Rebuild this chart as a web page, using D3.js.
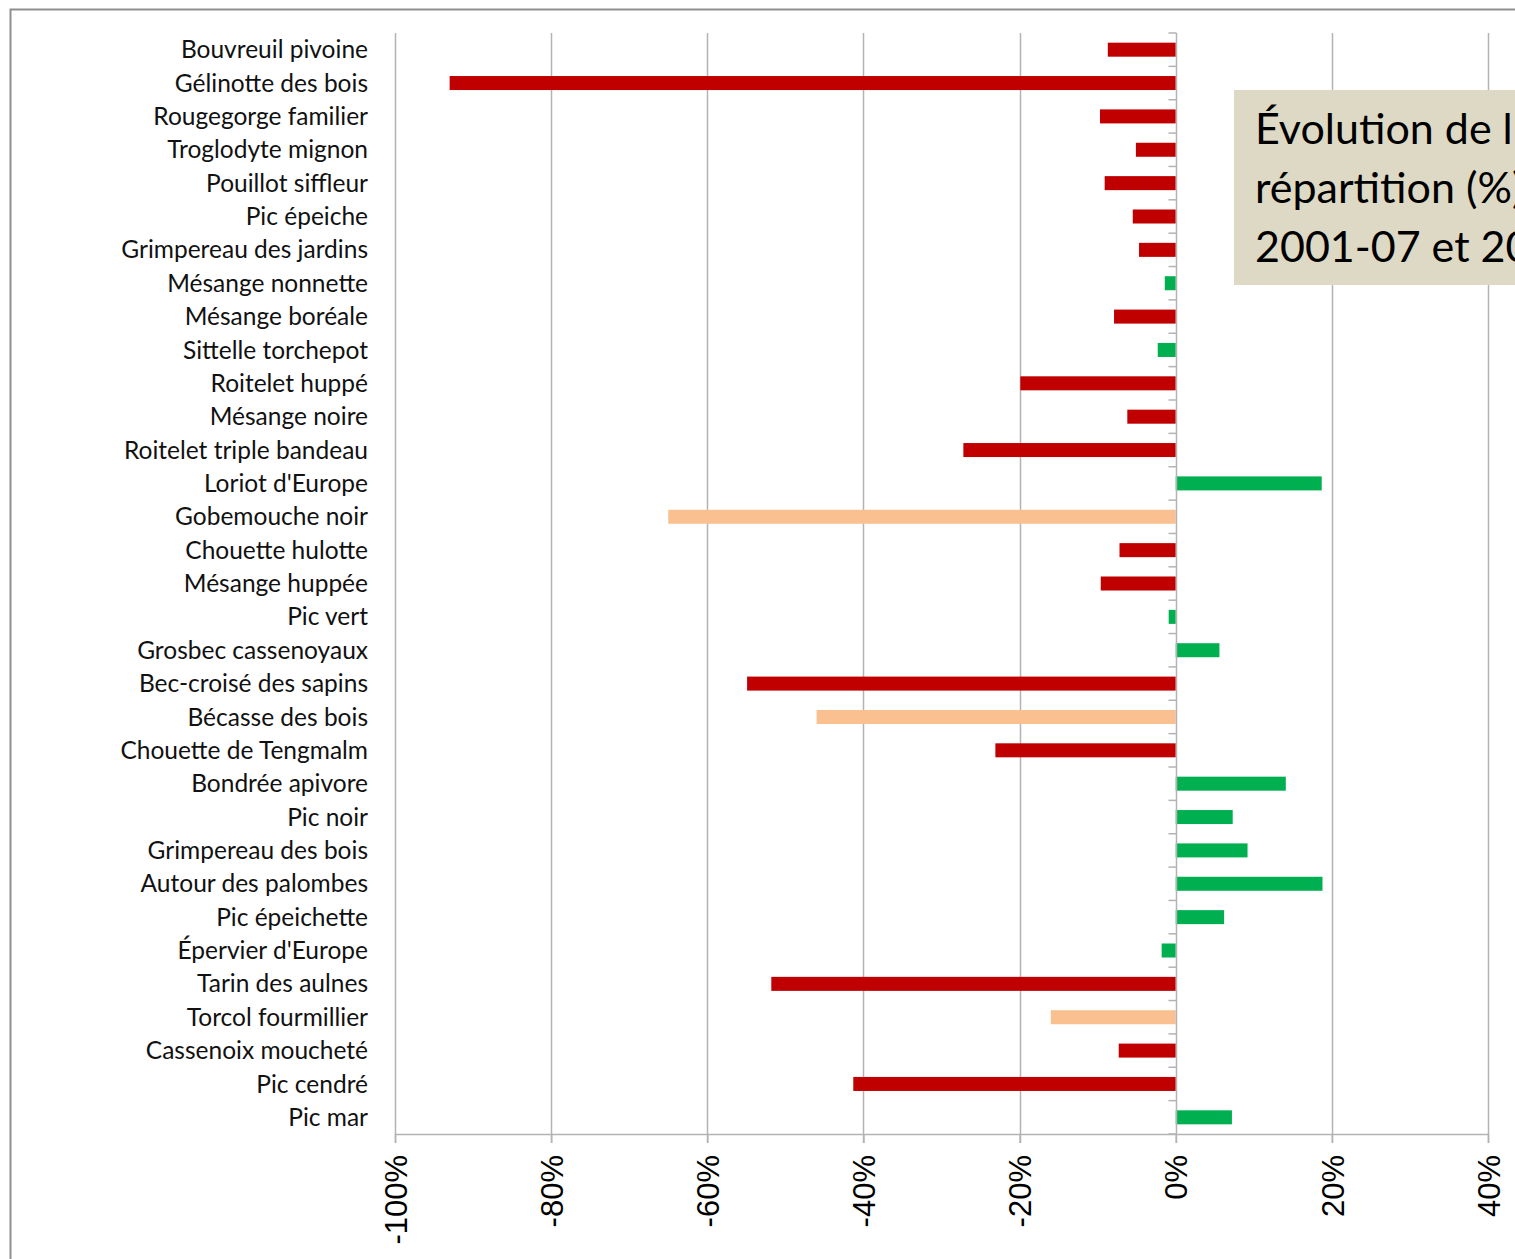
<!DOCTYPE html>
<html>
<head>
<meta charset="utf-8">
<script src="https://cdn.jsdelivr.net/npm/d3@7"></script>
<style>
  html, body { margin: 0; padding: 0; background: #fff; overflow: hidden; }
  svg { display: block; }
</style>
</head>
<body>
<svg id="chart" width="1515" height="1259"></svg>
<script>
// ---- Data ----
const species = [
  "Bouvreuil pivoine", "Gélinotte des bois", "Rougegorge familier", "Troglodyte mignon",
  "Pouillot siffleur", "Pic épeiche", "Grimpereau des jardins", "Mésange nonnette",
  "Mésange boréale", "Sittelle torchepot", "Roitelet huppé", "Mésange noire",
  "Roitelet triple bandeau", "Loriot d'Europe", "Gobemouche noir", "Chouette hulotte",
  "Mésange huppée", "Pic vert", "Grosbec cassenoyaux", "Bec-croisé des sapins",
  "Bécasse des bois", "Chouette de Tengmalm", "Bondrée apivore", "Pic noir",
  "Grimpereau des bois", "Autour des palombes", "Pic épeichette", "Épervier d'Europe",
  "Tarin des aulnes", "Torcol fourmillier", "Cassenoix moucheté", "Pic cendré", "Pic mar"
];
const change = [
  -0.087, -0.93, -0.097, -0.051,
  -0.091, -0.055, -0.047, -0.014,
  -0.079, -0.023, -0.199, -0.062,
  -0.272, 0.187, -0.65, -0.072,
  -0.096, -0.009, 0.056, -0.549,
  -0.46, -0.231, 0.141, 0.073,
  0.092, 0.188, 0.062, -0.018,
  -0.518, -0.16, -0.073, -0.413, 0.072
];
const status = [
  "declin", "declin", "declin", "declin",
  "declin", "declin", "declin", "hausse",
  "declin", "hausse", "declin", "declin",
  "declin", "hausse", "incertain", "declin",
  "declin", "hausse", "hausse", "declin",
  "incertain", "declin", "hausse", "hausse",
  "hausse", "hausse", "hausse", "hausse",
  "declin", "incertain", "declin", "declin", "hausse"
];
const tickValues = [-1, -0.8, -0.6, -0.4, -0.2, 0, 0.2, 0.4];
const titleLines = ["Évolution de l'aire de", "répartition (%) entre", "2001-07 et 2013-19"];
const statusColors = { declin: "#C00000", hausse: "#00B050", incertain: "#FAC090" };

// ---- Layout ----
const svg = d3.select("#chart");
const plotTop = 33, plotBottom = 1134;
const x = d3.scaleLinear().domain([-1, 0.4]).range([395, 1488]);
const y = d3.scaleBand().domain(species).range([plotTop, plotBottom]).paddingInner(0.58).paddingOuter(0.29);
const gridColor = "#b3b3b3";

// outer frame
svg.append("rect").attr("x", 10.5).attr("y", 9.5).attr("width", 1600).attr("height", 1400)
  .attr("fill", "none").attr("stroke", "#8f8f8f").attr("stroke-width", 2);

// gridlines (extend below axis as ticks)
svg.append("g").selectAll("line").data(tickValues.filter(d => d !== 0)).join("line")
  .attr("x1", d => Math.round(x(d)) + 0.5).attr("x2", d => Math.round(x(d)) + 0.5)
  .attr("y1", plotTop).attr("y2", plotBottom + 9)
  .attr("stroke", gridColor).attr("stroke-width", 1.5);

// bottom axis
const xAxis = d3.axisBottom(x).tickValues(tickValues)
  .tickFormat(d => Math.round(d * 100) + "%").tickSize(9).tickSizeOuter(0);
const gx = svg.append("g").attr("transform", `translate(0,${plotBottom})`).call(xAxis);
gx.select(".domain").attr("stroke", gridColor).attr("stroke-width", 1.5);
gx.selectAll(".tick line").attr("stroke", gridColor).attr("stroke-width", 1.5);
gx.selectAll(".tick text")
  .attr("font-family", "'Liberation Sans', Arial, sans-serif")
  .attr("font-size", 31).attr("fill", "#000")
  .attr("transform", "rotate(-90)")
  .attr("text-anchor", "end")
  .attr("x", -21).attr("y", 0).attr("dy", "0.36em");

// bars
svg.append("g").selectAll("rect").data(species).join("rect")
  .attr("x", (d, i) => x(Math.min(0, change[i])))
  .attr("width", (d, i) => Math.abs(x(change[i]) - x(0)))
  .attr("y", d => y(d))
  .attr("height", y.bandwidth())
  .attr("fill", (d, i) => statusColors[status[i]]);

// zero (category) axis with ticks to the left
const x0 = Math.round(x(0)) + 0.5;
svg.append("line").attr("x1", x0).attr("x2", x0).attr("y1", plotTop).attr("y2", plotBottom + 9)
  .attr("stroke", gridColor).attr("stroke-width", 1.5);
const step = y.step();
const bounds = d3.range(species.length + 1).map(i => plotTop + i * step);
svg.append("g").selectAll("line").data(bounds).join("line")
  .attr("x1", x0 - 8).attr("x2", x0).attr("y1", d => d).attr("y2", d => d)
  .attr("stroke", gridColor).attr("stroke-width", 1.5);

// category labels
svg.append("g").selectAll("text").data(species).join("text")
  .attr("x", 368).attr("y", d => y(d) + y.bandwidth() / 2)
  .attr("dy", "0.35em").attr("text-anchor", "end")
  .attr("font-family", "Lato, 'Open Sans', sans-serif").attr("font-size", 24.5)
  .attr("fill", "#111").text(d => d);

// title box (extends past the right edge, as in the original)
svg.append("rect").attr("x", 1234).attr("y", 90).attr("width", 400).attr("height", 195)
  .attr("fill", "#DDD9C4");
svg.append("g").selectAll("text").data(titleLines).join("text")
  .attr("x", 1255).attr("y", (d, i) => 144 + i * 59)
  .attr("font-family", "Lato, 'Open Sans', sans-serif").attr("font-size", 43)
  .attr("fill", "#000").text(d => d);
</script>
</body>
</html>
